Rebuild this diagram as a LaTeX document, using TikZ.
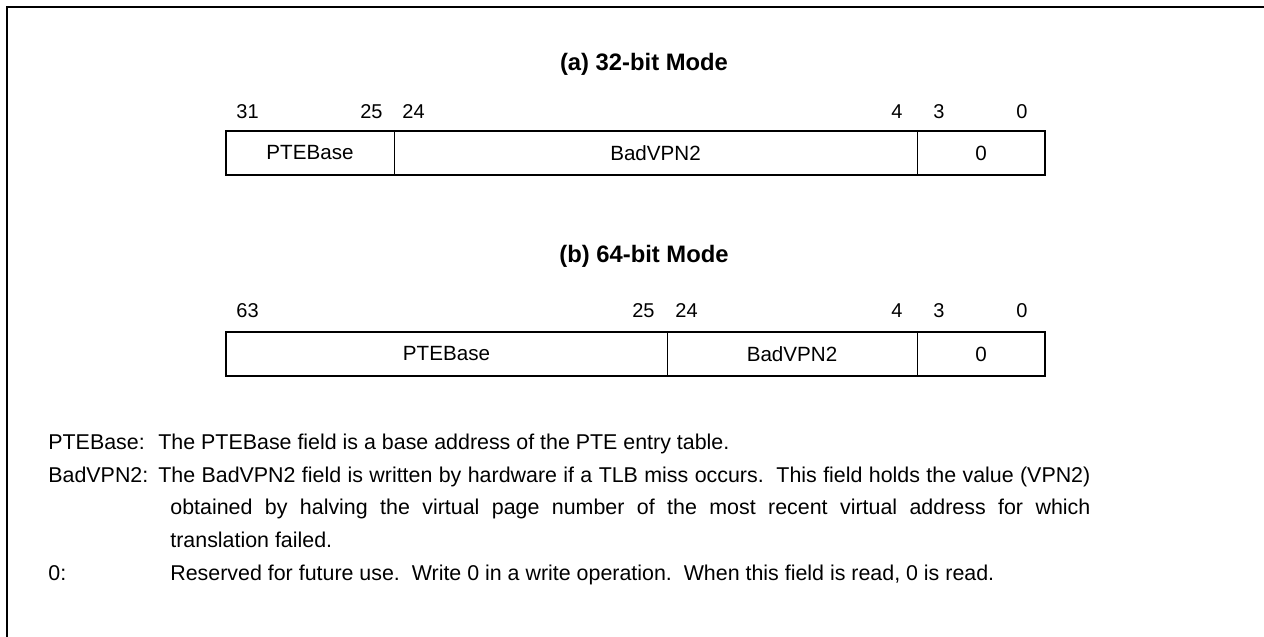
\documentclass[tikz,border=0pt]{standalone}
\usepackage{fontspec}
\setmainfont{Liberation Sans}
\usetikzlibrary{positioning}
\newcommand{\deslabel}[1]{\makebox[55pt][l]{#1}}

\begin{document}
\frenchspacing
\begin{tikzpicture}[
  x=0.5pt, y=-0.5pt, node distance=0pt,
  field/.style={draw, line width=0.5pt, minimum height=22pt, inner sep=0pt, outer sep=0pt, font=\fontsize{10.3}{12}\selectfont},
  outline/.style={draw, line width=1pt},
  lbit/.style={inner sep=0pt, anchor=south west, font=\fontsize{10}{12}\selectfont},
  rbit/.style={inner sep=0pt, anchor=south east, font=\fontsize{10}{12}\selectfont},
  title/.style={font=\fontsize{11.9}{14}\selectfont\bfseries},
  desc/.style={anchor=base west, inner sep=0pt, text width=521pt, align=justify, font=\fontsize{10.7}{16.4}\selectfont}
]
\useasboundingbox (0,0) rectangle (1264,637);
\draw[line width=1.2pt] (7,637) -- (7,7) -- (1264,7);

% (a) 32-bit mode
\node[title] (ta) at (644,64) {(a) 32-bit Mode};
\node[field, minimum width=84pt, anchor=north west] (pa) at (226,131) {PTEBase};
\node[field, minimum width=261.5pt, right=of pa] (ba) {BadVPN2};
\node[field, minimum width=64pt, right=of ba] (za) {0};
\draw[outline] (pa.north west) rectangle (za.south east);
\node[lbit] (a31) at ([shift={(10,-12)}]pa.north west) {31};
\node[rbit] (a25) at ([shift={(-11,-12)}]ba.north west) {25};
\node[lbit] (a24) at ([shift={(8,-12)}]ba.north west) {24};
\node[rbit] (a4) at ([shift={(-14,-12)}]za.north west) {4};
\node[lbit] (a3) at ([shift={(16,-12)}]za.north west) {3};
\node[rbit] (a0) at ([shift={(-17,-12)}]za.north east) {0};

% (b) 64-bit mode
\node[title] (tb) at (644,256) {(b) 64-bit Mode};
\node[field, minimum width=220.5pt, anchor=north west] (pb) at (226,332) {PTEBase};
\node[field, minimum width=125pt, right=of pb] (bb) {BadVPN2};
\node[field, minimum width=64pt, right=of bb] (zb) {0};
\draw[outline] (pb.north west) rectangle (zb.south east);
\node[lbit] (b63) at ([shift={(10,-14)}]pb.north west) {63};
\node[rbit] (b25) at ([shift={(-12,-14)}]bb.north west) {25};
\node[lbit] (b24) at ([shift={(8,-14)}]bb.north west) {24};
\node[rbit] (b4) at ([shift={(-14,-14)}]zb.north west) {4};
\node[lbit] (b3) at ([shift={(16,-14)}]zb.north west) {3};
\node[rbit] (b0) at ([shift={(-17,-14)}]zb.north east) {0};

% field descriptions
\node[desc] (dpte) at (48,449) {\deslabel{PTEBase:}The PTEBase field is a base address of the PTE entry table.};
\node[desc] (dbad) at (48,482) {\hangindent=61pt\hangafter=1 \deslabel{BadVPN2:}The BadVPN2 field is written by hardware if a TLB miss occurs.\ \ This field holds the value (VPN2)\linebreak obtained by halving the virtual page number of the most recent virtual address for which\linebreak translation failed.\par};
\node[desc] (dres) at (48,580) {\makebox[61pt][l]{0:}Reserved for future use.\ \ Write 0 in a write operation.\ \ When this field is read, 0 is read.};
\end{tikzpicture}
\end{document}
